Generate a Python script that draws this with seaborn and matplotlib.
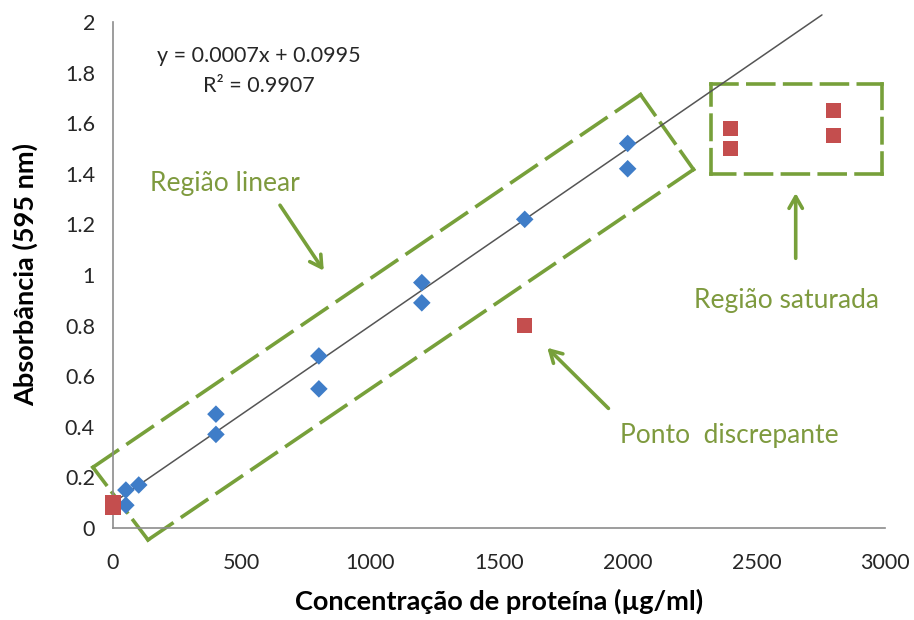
import matplotlib
matplotlib.use("Agg")
import math
import matplotlib.pyplot as plt
import seaborn as sns
import pandas as pd
import numpy as np

# Calibration points used in the linear fit
linear_conc = [50, 50, 100, 400, 400, 800, 800, 1200, 1200, 1600, 2000, 2000]
linear_abs = [0.15, 0.09, 0.17, 0.45, 0.37, 0.68, 0.55, 0.97, 0.89, 1.22, 1.52, 1.42]

# Points excluded from the fit (blank, outlier, saturation)
excluded_conc = [0, 0, 1600, 2400, 2400, 2800, 2800]
excluded_abs = [0.10, 0.08, 0.80, 1.58, 1.50, 1.65, 1.55]

slope = 0.0007
intercept = 0.0995
r2 = 0.9907

x_ticks = [0, 500, 1000, 1500, 2000, 2500, 3000]
y_ticks = [0, 0.2, 0.4, 0.6, 0.8, 1.0, 1.2, 1.4, 1.6, 1.8, 2.0]
y_tick_labels = ["0", "0.2", "0.4", "0.6", "0.8", "1", "1.2", "1.4", "1.6", "1.8", "2"]

sns.set_theme(style="white")
plt.rcParams["font.family"] = ["Lato", "DejaVu Sans"]

GREEN = "#77A03A"
TEXT_GREEN = "#7E9A3E"
BLUE = "#3F7DC8"
RED = "#C44E4E"
DPI = 100

fig = plt.figure(figsize=(9.14, 6.2), dpi=DPI)
ax = fig.add_axes([113 / 914, 1 - 528 / 620, (885 - 113) / 914, (528 - 22) / 620])

df_lin = pd.DataFrame({"conc": linear_conc, "abs": linear_abs})
df_exc = pd.DataFrame({"conc": excluded_conc, "abs": excluded_abs})

ax.set_xlim(0, 3000)
ax.set_ylim(0, 2)

# Trend line from the fitted equation
x_line = np.array([0, (2.0 - intercept) / slope + 40])
ax.plot(x_line, slope * x_line + intercept, color="#555555", lw=1.1, zorder=2, clip_on=False)

sns.scatterplot(data=df_lin, x="conc", y="abs", marker="D", s=80, color=BLUE,
                edgecolor="none", ax=ax, zorder=3, clip_on=False)
sns.scatterplot(data=df_exc, x="conc", y="abs", marker="s", s=120, color=RED,
                edgecolor="none", ax=ax, zorder=4, clip_on=False)

ax.set_xlim(0, 3000)
ax.set_ylim(0, 2)
ax.set_xticks(x_ticks)
ax.set_xticklabels([str(t) for t in x_ticks])
ax.set_yticks(y_ticks)
ax.set_yticklabels(y_tick_labels)

for side in ("top", "right"):
    ax.spines[side].set_visible(False)
for side in ("left", "bottom"):
    ax.spines[side].set_color("#8C8C8C")
    ax.spines[side].set_linewidth(1.2)
ax.tick_params(axis="both", which="both", direction="out", length=5, width=1.2,
               color="#8C8C8C", labelsize=15.5, labelcolor="#262626")
ax.tick_params(axis="x", pad=13)
ax.tick_params(axis="y", pad=8)

ax.set_xlabel("Concentração de proteína (µg/ml)", fontsize=19.5, fontweight="bold",
              color="black", labelpad=11)
ax.set_ylabel("Absorbância (595 nm)", fontsize=19.5, fontweight="bold",
              color="black", labelpad=19)

# Fit equation
ax.text(565, 1.864, f"y = {slope}x + {intercept}", fontsize=15.5, color="#262626",
        ha="center", va="center")
ax.text(565, 1.746, f"R² = {r2}", fontsize=15.5, color="#262626",
        ha="center", va="center")


def dashed_outline(corners, lw=2.6, dash_px=31.0, gap_px=13.0):
    """Draw a closed outline edge by edge, fitting the dashes so each corner starts and ends with a dash."""
    pts = list(corners) + [corners[0]]
    to_disp = ax.transData.transform
    for (x0, y0), (x1, y1) in zip(pts[:-1], pts[1:]):
        p0, p1 = to_disp((x0, y0)), to_disp((x1, y1))
        length = np.hypot(*(p1 - p0))
        n = max(3, math.ceil((length + gap_px) / (dash_px + gap_px)))
        k = (length + gap_px) / (n * (dash_px + gap_px))
        d_pt = dash_px * k * 72 / DPI / lw
        g_pt = gap_px * k * 72 / DPI / lw
        ax.plot([x0, x1], [y0, y1], color=GREEN, lw=lw, linestyle=(0, (d_pt, g_pt)),
                dash_capstyle="projecting", clip_on=False, zorder=1)


# Linear region box (rotated rectangle)
dashed_outline([(-78, 0.240), (2050, 1.713), (2256, 1.417), (136, -0.047)])

# Saturated region box
dashed_outline([(2322, 1.756), (2987, 1.756), (2987, 1.398), (2322, 1.398)])

arrow_kw = dict(arrowstyle="->,head_length=0.7,head_width=0.4", color=GREEN, lw=2.6)

ax.text(144, 1.36, "Região linear", fontsize=19, color=TEXT_GREEN, ha="left", va="center")
ax.annotate("", xy=(825, 1.008), xytext=(643, 1.285), arrowprops=arrow_kw)

ax.text(2618, 0.898, "Região saturada", fontsize=19, color=TEXT_GREEN, ha="center", va="center")
ax.annotate("", xy=(2653, 1.335), xytext=(2653, 1.055), arrowprops=arrow_kw)

ax.text(1972, 0.366, "Ponto  discrepante", fontsize=19, color=TEXT_GREEN, ha="left", va="center")
ax.annotate("", xy=(1680, 0.72), xytext=(1933, 0.465), arrowprops=arrow_kw)

fig.savefig("out.png", dpi=DPI)
